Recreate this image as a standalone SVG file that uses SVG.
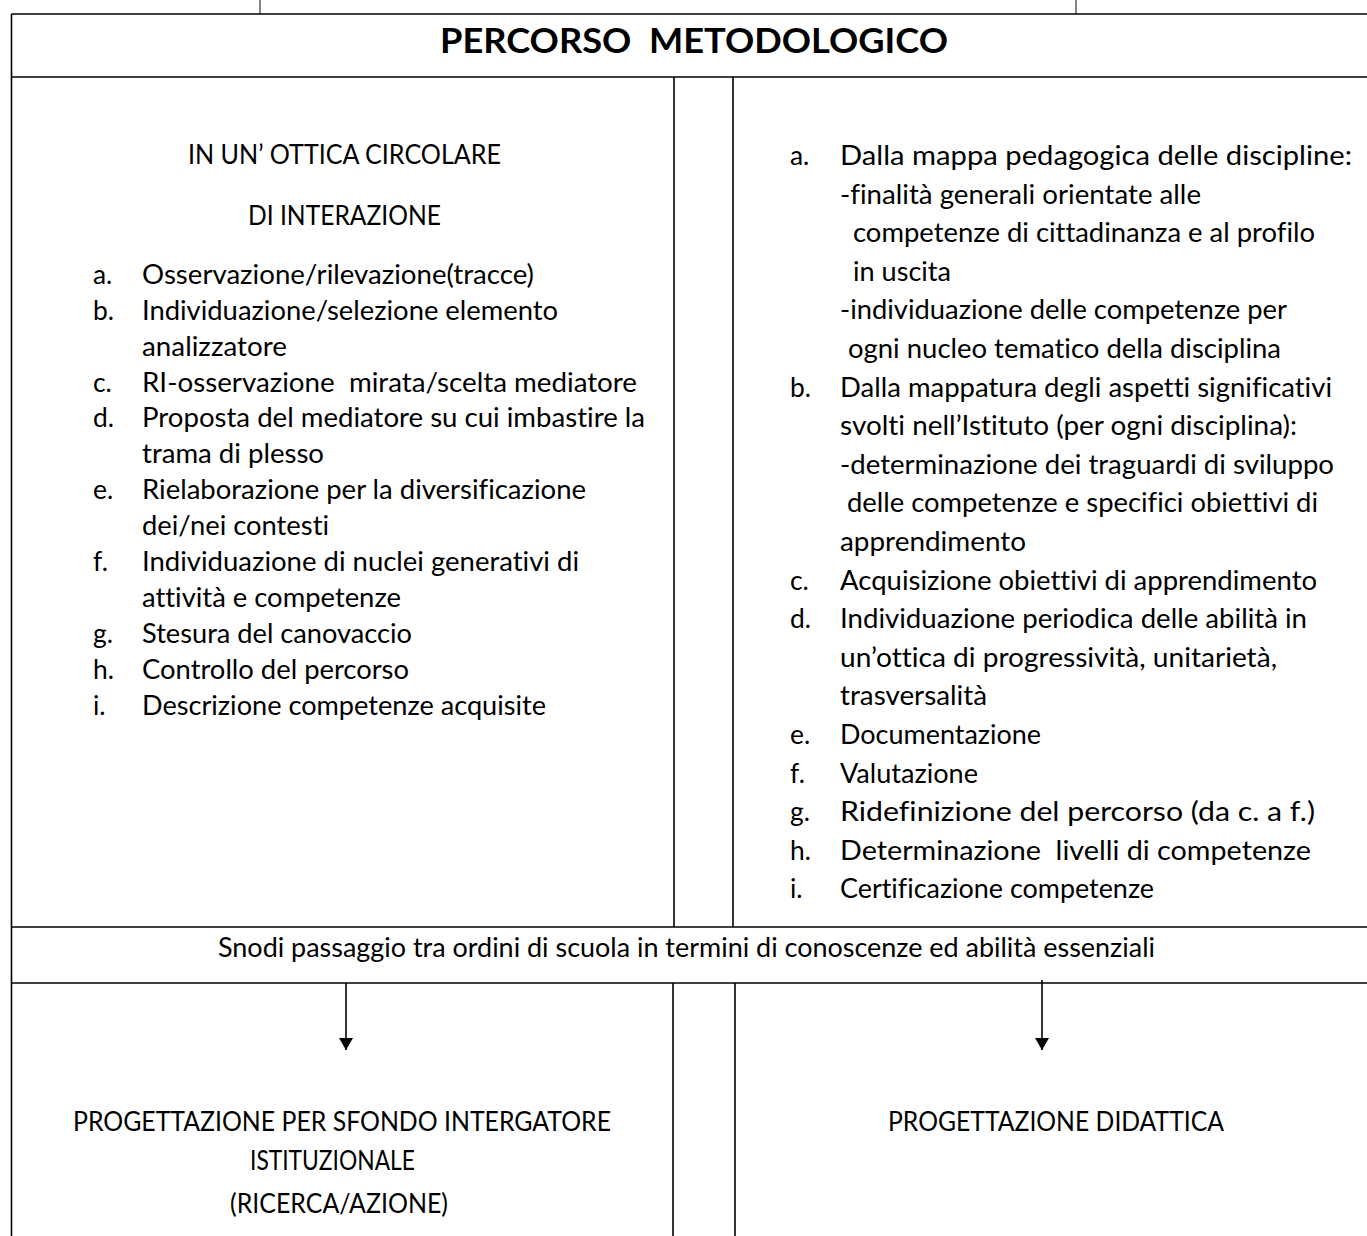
<svg xmlns="http://www.w3.org/2000/svg" width="1367" height="1236" viewBox="0 0 1367 1236">
<style>
.t{font-family:Lato,"Liberation Sans",sans-serif;font-size:26.4px;fill:#000;white-space:pre;font-variant-ligatures:none}
.ti{font-family:Lato,"Liberation Sans",sans-serif;font-size:35px;font-weight:bold;fill:#000;white-space:pre}
.ln{stroke:#000;stroke-width:1.6;fill:none}
.tk{stroke:#333;stroke-width:1.2;fill:none}
.ar{stroke:#000;stroke-width:1.6;fill:none}
</style>
<defs>
<marker id="ah" viewBox="0 0 12 14" refX="12" refY="7" markerWidth="14" markerHeight="14" markerUnits="userSpaceOnUse" orient="auto">
<path d="M0,0 L12,7 L0,14 z" fill="#000"/>
</marker>
</defs>
<rect width="1367" height="1236" fill="#fff"/>
<g id="table">
<line class="tk" x1="260" y1="0" x2="260" y2="14"/>
<line class="tk" x1="1076" y1="0" x2="1076" y2="14"/>
<line class="ln" x1="11.5" y1="14" x2="1367" y2="14"/>
<line class="ln" x1="11.5" y1="77" x2="1367" y2="77"/>
<line class="ln" x1="11.5" y1="927" x2="1367" y2="927"/>
<line class="ln" x1="11.5" y1="983" x2="1367" y2="983"/>
<line class="ln" x1="11.5" y1="14" x2="11.5" y2="1236"/>
<line class="ln" x1="674" y1="77" x2="674" y2="927"/>
<line class="ln" x1="733" y1="77" x2="733" y2="927"/>
<line class="ln" x1="673" y1="983" x2="673" y2="1236"/>
<line class="ln" x1="735" y1="983" x2="735" y2="1236"/>
</g>
<g id="header">
<text class="ti" x="440" y="53" textLength="508" lengthAdjust="spacingAndGlyphs">PERCORSO  METODOLOGICO</text>
</g>
<g id="left-column">
<text class="t" x="188" y="164" textLength="313" lengthAdjust="spacingAndGlyphs">IN UN’ OTTICA CIRCOLARE</text>
<text class="t" x="248" y="225" textLength="193" lengthAdjust="spacingAndGlyphs">DI INTERAZIONE</text>
<text class="t" x="93" y="284">a.</text><text class="t" x="142" y="284" textLength="392" lengthAdjust="spacingAndGlyphs">Osservazione/rilevazione(tracce)</text>
<text class="t" x="93" y="320">b.</text><text class="t" x="142" y="320" textLength="416" lengthAdjust="spacingAndGlyphs">Individuazione/selezione elemento</text>
<text class="t" x="142" y="356" textLength="145" lengthAdjust="spacingAndGlyphs">analizzatore</text>
<text class="t" x="93" y="392">c.</text><text class="t" x="142" y="392" textLength="495" lengthAdjust="spacingAndGlyphs">RI-osservazione  mirata/scelta mediatore</text>
<text class="t" x="93" y="427">d.</text><text class="t" x="142" y="427" textLength="503" lengthAdjust="spacingAndGlyphs">Proposta del mediatore su cui imbastire la</text>
<text class="t" x="142" y="463" textLength="182" lengthAdjust="spacingAndGlyphs">trama di plesso</text>
<text class="t" x="93" y="499">e.</text><text class="t" x="142" y="499" textLength="444" lengthAdjust="spacingAndGlyphs">Rielaborazione per la diversificazione</text>
<text class="t" x="142" y="535" textLength="187" lengthAdjust="spacingAndGlyphs">dei/nei contesti</text>
<text class="t" x="93" y="571">f.</text><text class="t" x="142" y="571" textLength="437" lengthAdjust="spacingAndGlyphs">Individuazione di nuclei generativi di</text>
<text class="t" x="142" y="607" textLength="259" lengthAdjust="spacingAndGlyphs">attività e competenze</text>
<text class="t" x="93" y="643">g.</text><text class="t" x="142" y="643" textLength="270" lengthAdjust="spacingAndGlyphs">Stesura del canovaccio</text>
<text class="t" x="93" y="679">h.</text><text class="t" x="142" y="679" textLength="267" lengthAdjust="spacingAndGlyphs">Controllo del percorso</text>
<text class="t" x="93" y="715">i.</text><text class="t" x="142" y="715" textLength="404" lengthAdjust="spacingAndGlyphs">Descrizione competenze acquisite</text>
</g>
<g id="right-column">
<text class="t" x="790" y="165">a.</text><text class="t" x="840" y="165" textLength="512" lengthAdjust="spacingAndGlyphs">Dalla mappa pedagogica delle discipline:</text>
<text class="t" x="840" y="203.6" textLength="361" lengthAdjust="spacingAndGlyphs">-finalità generali orientate alle</text>
<text class="t" x="853" y="242.2" textLength="462" lengthAdjust="spacingAndGlyphs">competenze di cittadinanza e al profilo</text>
<text class="t" x="853" y="280.8" textLength="98" lengthAdjust="spacingAndGlyphs">in uscita</text>
<text class="t" x="840" y="319.4" textLength="447" lengthAdjust="spacingAndGlyphs">-individuazione delle competenze per</text>
<text class="t" x="848" y="358" textLength="433" lengthAdjust="spacingAndGlyphs">ogni nucleo tematico della disciplina</text>
<text class="t" x="790" y="396.6">b.</text><text class="t" x="840" y="396.6" textLength="492" lengthAdjust="spacingAndGlyphs">Dalla mappatura degli aspetti significativi</text>
<text class="t" x="840" y="435.2" textLength="457" lengthAdjust="spacingAndGlyphs">svolti nell’Istituto (per ogni disciplina):</text>
<text class="t" x="840" y="473.8" textLength="494" lengthAdjust="spacingAndGlyphs">-determinazione dei traguardi di sviluppo</text>
<text class="t" x="847" y="512.4" textLength="471" lengthAdjust="spacingAndGlyphs">delle competenze e specifici obiettivi di</text>
<text class="t" x="840" y="551" textLength="186" lengthAdjust="spacingAndGlyphs">apprendimento</text>
<text class="t" x="790" y="589.6">c.</text><text class="t" x="840" y="589.6" textLength="477" lengthAdjust="spacingAndGlyphs">Acquisizione obiettivi di apprendimento</text>
<text class="t" x="790" y="628.2">d.</text><text class="t" x="840" y="628.2" textLength="467" lengthAdjust="spacingAndGlyphs">Individuazione periodica delle abilità in</text>
<text class="t" x="840" y="666.8" textLength="437" lengthAdjust="spacingAndGlyphs">un’ottica di progressività, unitarietà,</text>
<text class="t" x="840" y="705.4" textLength="147" lengthAdjust="spacingAndGlyphs">trasversalità</text>
<text class="t" x="790" y="744">e.</text><text class="t" x="840" y="744" textLength="201" lengthAdjust="spacingAndGlyphs">Documentazione</text>
<text class="t" x="790" y="782.6">f.</text><text class="t" x="840" y="782.6" textLength="138" lengthAdjust="spacingAndGlyphs">Valutazione</text>
<text class="t" x="790" y="821.2">g.</text><text class="t" x="840" y="821.2" textLength="475" lengthAdjust="spacingAndGlyphs">Ridefinizione del percorso (da c. a f.)</text>
<text class="t" x="790" y="859.8">h.</text><text class="t" x="840" y="859.8" textLength="471" lengthAdjust="spacingAndGlyphs">Determinazione  livelli di competenze</text>
<text class="t" x="790" y="898.4">i.</text><text class="t" x="840" y="898.4" textLength="314" lengthAdjust="spacingAndGlyphs">Certificazione competenze</text>
</g>
<g id="snodi">
<text class="t" x="218" y="957" textLength="937" lengthAdjust="spacingAndGlyphs">Snodi passaggio tra ordini di scuola in termini di conoscenze ed abilità essenziali</text>
</g>
<g id="progettazione-sfondo">
<text class="t" x="73" y="1131" textLength="538" lengthAdjust="spacingAndGlyphs">PROGETTAZIONE PER SFONDO INTERGATORE</text>
<text class="t" x="250" y="1170" textLength="165" lengthAdjust="spacingAndGlyphs">ISTITUZIONALE</text>
<text class="t" x="230" y="1213" textLength="218" lengthAdjust="spacingAndGlyphs">(RICERCA/AZIONE)</text>
</g>
<g id="progettazione-didattica">
<text class="t" x="888" y="1131" textLength="336" lengthAdjust="spacingAndGlyphs">PROGETTAZIONE DIDATTICA</text>
</g>
<g id="connectors">
<line class="ar" x1="346" y1="983" x2="346" y2="1050" marker-end="url(#ah)"/>
<line class="ar" x1="1042" y1="980" x2="1042" y2="1050" marker-end="url(#ah)"/>
</g>
</svg>
